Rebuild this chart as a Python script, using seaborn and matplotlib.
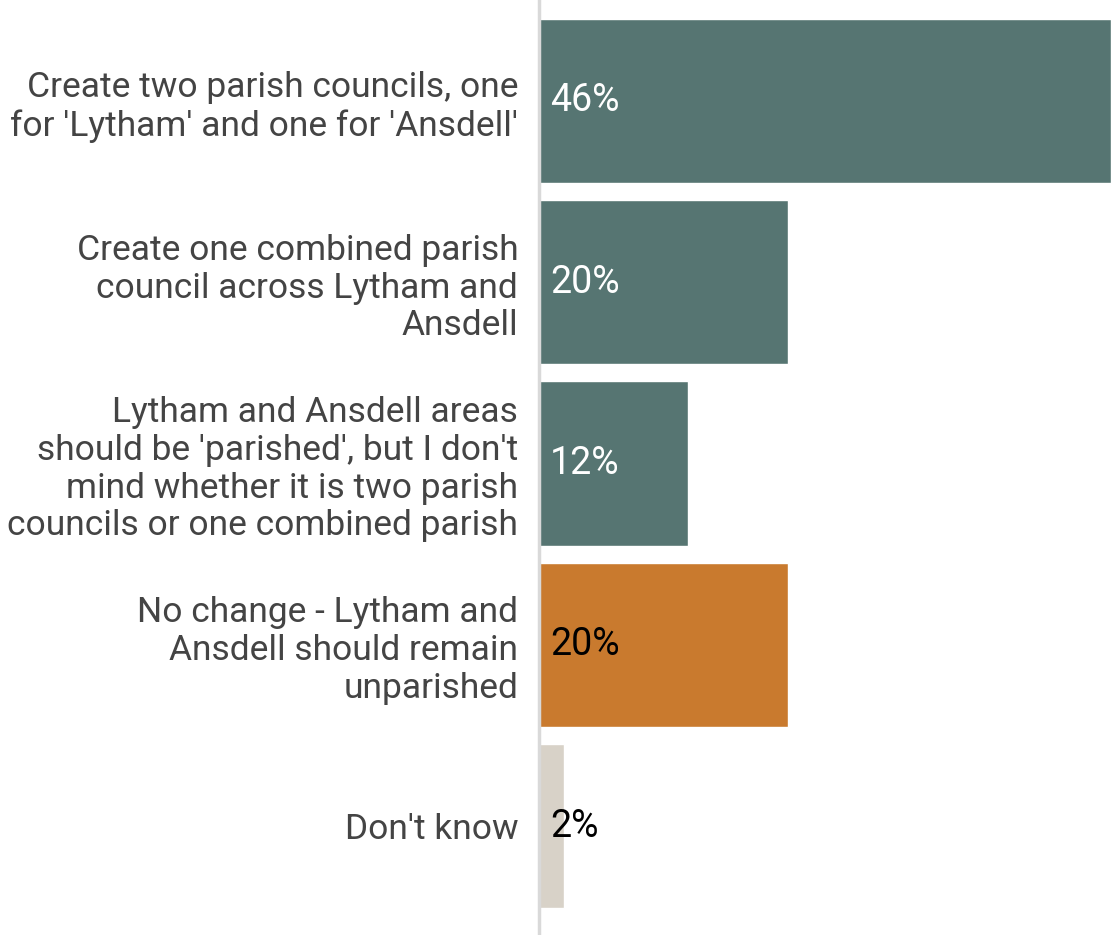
import matplotlib
matplotlib.use("Agg")
import matplotlib.pyplot as plt
import seaborn as sns
import pandas as pd

# Survey responses (percent)
options = [
    "Create two parish councils, one\nfor 'Lytham' and one for 'Ansdell'",
    "Create one combined parish\ncouncil across Lytham and\nAnsdell",
    "Lytham and Ansdell areas\nshould be 'parished', but I don't\nmind whether it is two parish\ncouncils or one combined parish",
    "No change - Lytham and\nAnsdell should remain\nunparished",
    "Don't know",
]
percent = [46, 20, 12, 20, 2]
bar_colors = ["#567572", "#567572", "#567572", "#C97A2E", "#D8D2C8"]
text_colors = ["white", "white", "white", "black", "black"]

df = pd.DataFrame({"option": options, "percent": percent})

sns.set_theme(style="white")
plt.rcParams["font.family"] = ["Roboto", "DejaVu Sans"]

fig = plt.figure(figsize=(11.13, 9.35), dpi=100)
ax = fig.add_axes([539 / 1113, 0, (1111 - 539) / 1113, 1])

sns.barplot(data=df, y="option", x="percent", hue="option",
            palette=dict(zip(options, bar_colors)), legend=False,
            width=0.905, saturation=1, orient="h", ax=ax)

for i, (v, c) in enumerate(zip(percent, text_colors)):
    ax.annotate(f"{v}%", xy=(0, i), xytext=(8, 0), textcoords="offset points",
                va="center", ha="left", fontsize=27, color=c)

ax.set_xlim(0, 46)
ax.set_ylim(4.601, -0.557)
ax.set_xlabel("")
ax.set_ylabel("")
ax.set_xticks([])
ax.tick_params(axis="y", length=0, pad=15, labelsize=25.5, labelcolor="#444444")
for lbl in ax.get_yticklabels():
    lbl.set_horizontalalignment("right")
    lbl.set_linespacing(1.18)
for s in ["top", "right", "bottom"]:
    ax.spines[s].set_visible(False)
ax.spines["left"].set_color("#d9d9d9")
ax.spines["left"].set_linewidth(2.5)

fig.savefig("out.png", dpi=100)
